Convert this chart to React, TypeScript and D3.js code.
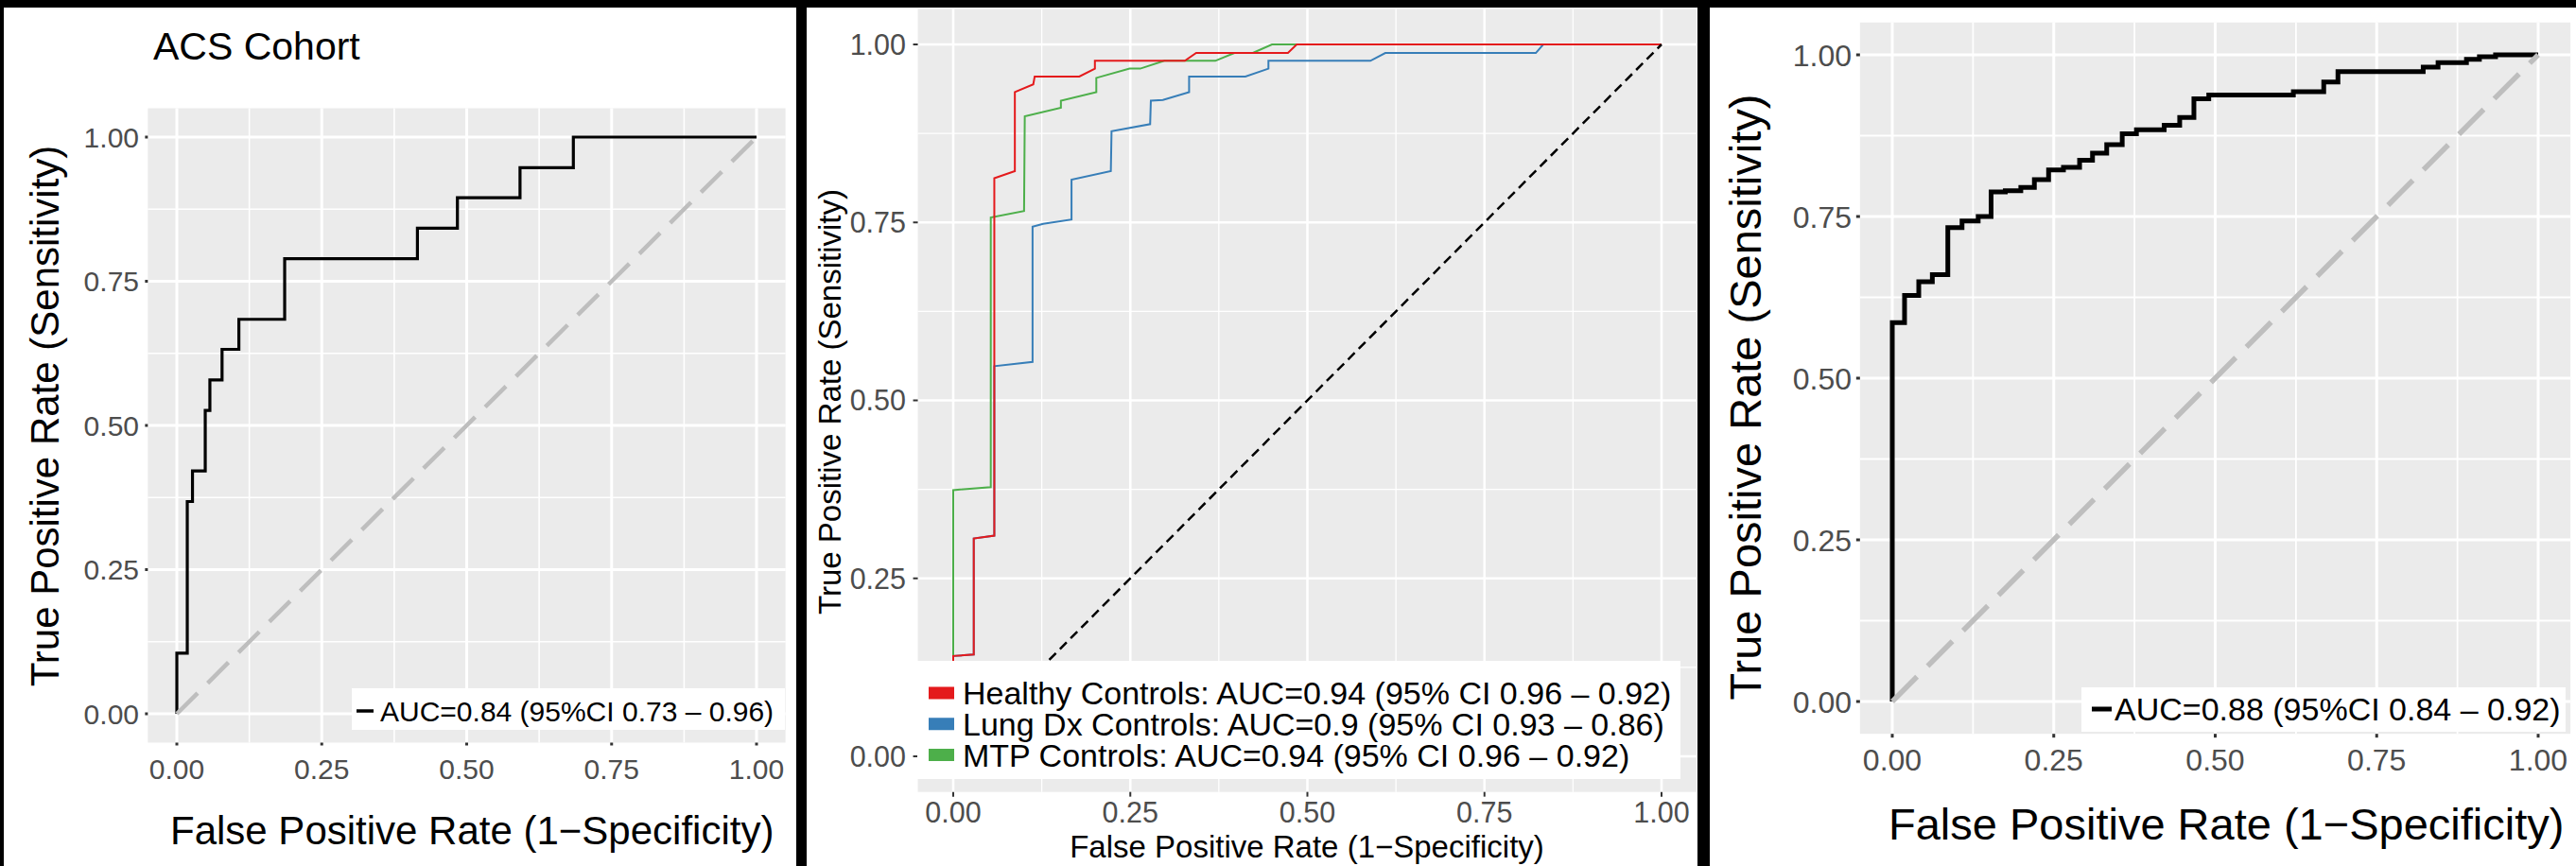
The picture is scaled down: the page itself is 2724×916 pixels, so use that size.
import React from "react";
import * as d3 from "d3";

const tickValues = [0, 0.25, 0.5, 0.75, 1];
const tickLabels = ["0.00", "0.25", "0.50", "0.75", "1.00"];
const minorValues = [0.125, 0.375, 0.625, 0.875];
const chance = [0, 1];

const xTitle = "False Positive Rate (1\u2212Specificity)";
const yTitle = "True Positive Rate (Sensitivity)";

// left panel: ACS cohort
const acsFpr = [0, 0, 0.018, 0.027, 0.049, 0.057, 0.078, 0.107, 0.186, 0.415, 0.484, 0.592, 0.684, 1];
const acsTpr = [0, 0.105, 0.368, 0.421, 0.526, 0.579, 0.632, 0.684, 0.789, 0.842, 0.895, 0.947, 1, 1];
const acsLabel = "AUC=0.84 (95%CI 0.73 \u2013 0.96)";

// middle panel: three control groups
const healthyFpr = [0, 0, 0.029, 0.029, 0.058, 0.058, 0.087, 0.087, 0.113, 0.115, 0.178, 0.2, 0.2, 0.327, 0.343, 0.4725, 0.485, 1];
const healthyTpr = [0, 0.141, 0.143, 0.306, 0.31, 0.812, 0.822, 0.933, 0.944, 0.955, 0.955, 0.966, 0.977, 0.977, 0.988, 0.988, 1, 1];
const lungFpr = [0, 0, 0.029, 0.029, 0.058, 0.058, 0.112, 0.112, 0.127, 0.167, 0.167, 0.2225, 0.2235, 0.278, 0.279, 0.296, 0.333, 0.333, 0.4125, 0.445, 0.445, 0.589, 0.61, 0.8225, 0.833, 1];
const lungTpr = [0, 0.141, 0.143, 0.306, 0.31, 0.548, 0.554, 0.744, 0.748, 0.754, 0.81, 0.822, 0.878, 0.888, 0.921, 0.922, 0.933, 0.955, 0.955, 0.966, 0.977, 0.977, 0.988, 0.988, 1, 1];
const mtpFpr = [0, 0, 0.053, 0.053, 0.1, 0.101, 0.152, 0.152, 0.202, 0.202, 0.249, 0.264, 0.298, 0.37, 0.397, 0.423, 0.45, 1];
const mtpTpr = [0, 0.374, 0.378, 0.757, 0.766, 0.899, 0.911, 0.921, 0.933, 0.953, 0.966, 0.966, 0.977, 0.977, 0.988, 0.988, 1, 1];
const groupLabels = [
  "Healthy Controls: AUC=0.94 (95% CI 0.96 \u2013 0.92)",
  "Lung Dx Controls: AUC=0.9 (95% CI 0.93 \u2013 0.86)",
  "MTP Controls: AUC=0.94 (95% CI 0.96 \u2013 0.92)",
];
const groupColors = ["#E41A1C", "#377EB8", "#4DAF4A"];

// right panel
const valFpr = [0, 0, 0.019, 0.041, 0.062, 0.086, 0.108, 0.133, 0.153, 0.175, 0.199, 0.22, 0.242, 0.265, 0.29, 0.31, 0.332, 0.356, 0.378, 0.421, 0.445, 0.467, 0.49, 0.621, 0.668, 0.69, 0.822, 0.845, 0.889, 0.909, 0.934, 1];
const valTpr = [0, 0.586, 0.628, 0.649, 0.66, 0.733, 0.743, 0.75, 0.788, 0.79, 0.795, 0.807, 0.822, 0.826, 0.837, 0.848, 0.861, 0.878, 0.884, 0.891, 0.903, 0.932, 0.938, 0.943, 0.958, 0.974, 0.981, 0.988, 0.993, 0.997, 1, 1];
const valLabel = "AUC=0.88 (95%CI 0.84 \u2013 0.92)";

const font = "'Liberation Sans', Arial, Helvetica, sans-serif";
const zip = (a: number[], b: number[]) => a.map((v, i) => [v, b[i]] as [number, number]);

const RocPanel = ({ cfg, series, children }: any) => {
  const x = d3.scaleLinear().domain([0, 1]).range(cfg.xRange);
  const y = d3.scaleLinear().domain([0, 1]).range(cfg.yRange);
  const px0 = x(-0.05), px1 = x(1.05), py0 = y(1.05), py1 = y(-0.05);
  const mkLine = (step: boolean) =>
    d3.line<[number, number]>()
      .x(d => x(d[0]))
      .y(d => y(d[1]))
      .curve(step ? d3.curveStepAfter : d3.curveLinear);
  const diag = mkLine(false)(zip(chance, chance));
  const [bx0, by0, bx1, by1] = cfg.box;
  return (
    <g fontFamily={font}>
      <rect x={bx0} y={by0} width={bx1 - bx0} height={by1 - by0} fill="#fff" />
      <rect x={px0} y={py0} width={px1 - px0} height={py1 - py0} fill="#EBEBEB" />
      {minorValues.map(v => (
        <g key={"m" + v}>
          <line x1={x(v)} x2={x(v)} y1={py0} y2={py1} stroke="#fff" strokeWidth={cfg.minorWidth} />
          <line x1={px0} x2={px1} y1={y(v)} y2={y(v)} stroke="#fff" strokeWidth={cfg.minorWidth} />
        </g>
      ))}
      {tickValues.map(v => (
        <g key={"M" + v}>
          <line x1={x(v)} x2={x(v)} y1={py0} y2={py1} stroke="#fff" strokeWidth={cfg.majorWidth} />
          <line x1={px0} x2={px1} y1={y(v)} y2={y(v)} stroke="#fff" strokeWidth={cfg.majorWidth} />
        </g>
      ))}
      {series.map((s: any, i: number) => (
        <path key={i} d={mkLine(s.step)(zip(s.fpr, s.tpr)) || ""} fill="none"
          stroke={s.color} strokeWidth={s.width} strokeLinejoin="miter" />
      ))}
      <path d={diag || ""} fill="none" stroke={cfg.diagColor} strokeWidth={cfg.diagWidth}
        strokeDasharray={cfg.diagDash} />
      {tickValues.map((v, i) => (
        <g key={"t" + v}>
          <line x1={px0 - cfg.tickLen} x2={px0} y1={y(v)} y2={y(v)} stroke="#333" strokeWidth={cfg.tickWidth} />
          <line x1={x(v)} x2={x(v)} y1={py1} y2={py1 + cfg.tickLen} stroke="#333" strokeWidth={cfg.tickWidth} />
          <text x={cfg.yLabelRight} y={y(v)} dy="0.36em" textAnchor="end" fontSize={cfg.tickFont} fill="#4D4D4D">
            {tickLabels[i]}
          </text>
          <text x={x(v)} y={cfg.xLabelBaseline} textAnchor="middle" fontSize={cfg.tickFont} fill="#4D4D4D">
            {tickLabels[i]}
          </text>
        </g>
      ))}
      <text x={cfg.xTitleX} y={cfg.xTitleBaseline} textAnchor={cfg.xTitleAnchor} fontSize={cfg.titleFont} fill="#000">
        {xTitle}
      </text>
      <text transform={`translate(${cfg.yTitleX},${cfg.yTitleY}) rotate(-90)`} textAnchor="middle"
        fontSize={cfg.titleFont} fill="#000">
        {yTitle}
      </text>
      {children}
    </g>
  );
};

const leftCfg = {
  box: [4, 8, 842, 916], xRange: [187, 800], yRange: [755, 145],
  minorWidth: 1.6, majorWidth: 3, tickLen: 3, tickWidth: 3, tickFont: 30, titleFont: 42,
  yLabelRight: 147, xLabelBaseline: 824, xTitleX: 180, xTitleAnchor: "start", xTitleBaseline: 893,
  yTitleX: 62, yTitleY: 440, diagColor: "#BEBEBE", diagWidth: 4.5, diagDash: "31 15",
};
const midCfg = {
  box: [853, 8, 1795, 916], xRange: [1008, 1757], yRange: [800, 47],
  minorWidth: 1.3, majorWidth: 2.6, tickLen: 5, tickWidth: 2, tickFont: 30.5, titleFont: 33,
  yLabelRight: 958, xLabelBaseline: 870, xTitleX: 1382, xTitleAnchor: "middle", xTitleBaseline: 907,
  yTitleX: 889, yTitleY: 425, diagColor: "#000", diagWidth: 2.5, diagDash: "10 6",
};
const rightCfg = {
  box: [1808, 8, 2724, 916], xRange: [2001, 2684], yRange: [742, 58],
  minorWidth: 1.8, majorWidth: 3, tickLen: 4, tickWidth: 3, tickFont: 32, titleFont: 47,
  yLabelRight: 1958, xLabelBaseline: 815, xTitleX: 1997, xTitleAnchor: "start", xTitleBaseline: 888,
  yTitleX: 1862, yTitleY: 420, diagColor: "#BEBEBE", diagWidth: 5.5, diagDash: "37 16",
};

export default function App() {
  const leftSeries = [{ fpr: acsFpr, tpr: acsTpr, color: "#000", width: 3.2, step: true }];
  const midFpr = [healthyFpr, lungFpr, mtpFpr];
  const midTpr = [healthyTpr, lungTpr, mtpTpr];
  const drawOrder = [1, 2, 0];
  const midSeries = drawOrder.map(i => ({ fpr: midFpr[i], tpr: midTpr[i], color: groupColors[i], width: 2, step: false }));
  const rightSeries = [{ fpr: valFpr, tpr: valTpr, color: "#000", width: 5, step: true }];

  return (
    <svg width={2724} height={916} style={{ position: "absolute", left: 0, top: 0, display: "block" }}>
      <rect x={0} y={0} width={2724} height={916} fill="#000" />

      <RocPanel cfg={leftCfg} series={leftSeries}>
        <text x={162} y={63} fontSize={41} fill="#000">ACS Cohort</text>
        <rect x={372} y={728} width={458} height={44} fill="#fff" />
        <line x1={377} x2={395} y1={752} y2={752} stroke="#000" strokeWidth={3.5} />
        <text x={402} y={752} dy="0.36em" fontSize={30} fill="#000">{acsLabel}</text>
      </RocPanel>

      <RocPanel cfg={midCfg} series={midSeries}>
        <rect x={970} y={699} width={807} height={125} fill="#fff" />
        {groupLabels.map((lab, i) => (
          <g key={lab}>
            <rect x={982} y={733 + i * 32.75 - 6.5} width={27} height={13} fill={groupColors[i]} />
            <text x={1018} y={733 + i * 32.75} dy="0.36em" fontSize={34} fill="#000">{lab}</text>
          </g>
        ))}
      </RocPanel>

      <RocPanel cfg={rightCfg} series={rightSeries}>
        <rect x={2201} y={727} width={512} height={47} fill="#fff" />
        <line x1={2212} x2={2233} y1={750} y2={750} stroke="#000" strokeWidth={5} />
        <text x={2236} y={750} dy="0.36em" fontSize={34} fill="#000">{valLabel}</text>
      </RocPanel>
    </svg>
  );
}
